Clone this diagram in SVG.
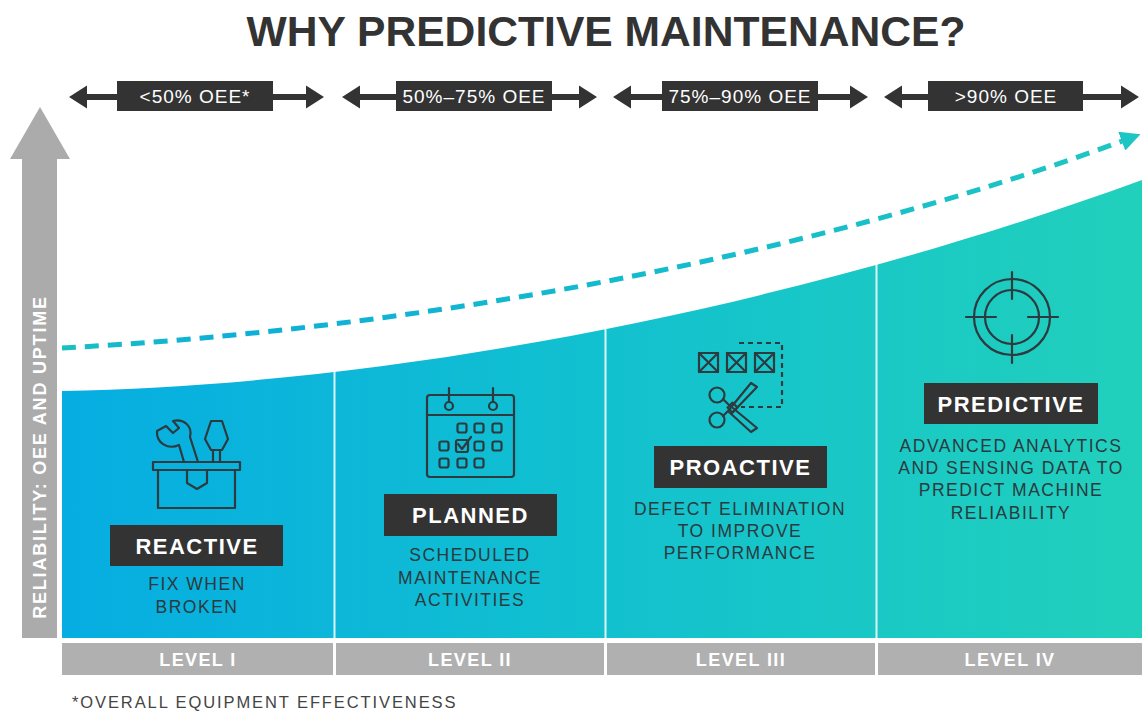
<svg xmlns="http://www.w3.org/2000/svg" width="1142" height="711" viewBox="0 0 1142 711">
<style>
.title{font-family:"Liberation Sans",Arial,sans-serif;font-weight:bold;font-size:42px;fill:#333333}
.rng{font-family:"Liberation Sans",Arial,sans-serif;font-size:19px;fill:#ffffff;letter-spacing:1px}
.lab{font-family:"Liberation Sans",Arial,sans-serif;font-weight:bold;font-size:22px;fill:#ffffff;letter-spacing:1.5px}
.desc{font-family:"Liberation Sans",Arial,sans-serif;font-size:17.5px;fill:#2b3a40;letter-spacing:1.5px}
.lvl{font-family:"Liberation Sans",Arial,sans-serif;font-weight:bold;font-size:18px;fill:#ffffff;letter-spacing:1.4px}
.axis{font-family:"Liberation Sans",Arial,sans-serif;font-weight:bold;font-size:18px;fill:#ffffff;letter-spacing:1.8px}
.foot{font-family:"Liberation Sans",Arial,sans-serif;font-size:16.5px;fill:#444444;letter-spacing:1.9px}
.ic{fill:none;stroke:#2d3a3f;stroke-width:2.2;stroke-linejoin:round;stroke-linecap:round}
.dk{fill:#333333}
.box{fill:#333333}
</style>
<defs>
<linearGradient id="fillg" x1="62" y1="0" x2="1142" y2="0" gradientUnits="userSpaceOnUse">
<stop offset="0" stop-color="#06ade2"/>
<stop offset="0.5" stop-color="#12c1cf"/>
<stop offset="1" stop-color="#21d0bb"/>
</linearGradient>
<linearGradient id="dashg" x1="62" y1="0" x2="1142" y2="0" gradientUnits="userSpaceOnUse">
<stop offset="0" stop-color="#19c0c2"/>
<stop offset="0.15" stop-color="#0eafd8"/>
<stop offset="0.55" stop-color="#14bbcc"/>
<stop offset="1" stop-color="#1ec6c3"/>
</linearGradient>
<marker id="ah" viewBox="0 0 10 10" refX="6" refY="5" markerWidth="4" markerHeight="4" markerUnits="strokeWidth" orient="auto">
<path d="M0,0 L10,5 L0,10 Z" fill="#1ec6c3"/>
</marker>
<symbol id="dbl" viewBox="0 0 255 24" width="255" height="24" overflow="visible">
<path class="dk" d="M0,12 L18,0.5 V9 H237 V0.5 L255,12 L237,23.5 V15 H18 V23.5 Z"/>
</symbol>
</defs>

<text class="title" x="606" y="46" text-anchor="middle" textLength="719" lengthAdjust="spacingAndGlyphs">WHY PREDICTIVE MAINTENANCE?</text>

<g id="ranges">
<g id="r1"><use href="#dbl" x="69" y="85"/><rect class="box" x="117" y="81" width="156" height="30"/><text class="rng" x="195" y="103" text-anchor="middle">&lt;50% OEE*</text></g>
<g id="r2"><use href="#dbl" x="342" y="85"/><rect class="box" x="396" y="81" width="156" height="30"/><text class="rng" x="474" y="103" text-anchor="middle">50%–75% OEE</text></g>
<g id="r3"><use href="#dbl" x="613" y="85"/><rect class="box" x="662" y="81" width="156" height="30"/><text class="rng" x="740" y="103" text-anchor="middle">75%–90% OEE</text></g>
<g id="r4"><use href="#dbl" x="884" y="85"/><rect class="box" x="928" y="81" width="155" height="30"/><text class="rng" x="1006" y="103" text-anchor="middle">&gt;90% OEE</text></g>
</g>

<g id="axis">
<path d="M22,638 V159 H10 L40,107 L70,159 H57 V638 Z" fill="#ababab"/>
<text class="axis" transform="translate(46,457) rotate(-90)" x="0" y="0" text-anchor="middle">RELIABILITY: OEE AND UPTIME</text>
</g>

<g id="area">
<path d="M62,391 C400,385 800,305 1142,180 V638 H62 Z" fill="url(#fillg)"/>
<g stroke="#ffffff" stroke-width="2" opacity="0.85">
<line x1="334.5" y1="360" x2="334.5" y2="638"/>
<line x1="605.5" y1="320" x2="605.5" y2="638"/>
<line x1="876.5" y1="255" x2="876.5" y2="638"/>
</g>
</g>

<g id="connectors">
<path d="M62,348 C400,330 800,262 1133,137" fill="none" stroke="url(#dashg)" stroke-width="5" stroke-dasharray="14 9" marker-end="url(#ah)"/>
</g>

<g id="levels">
<rect x="62" y="643" width="271" height="32" fill="#b0b0b0"/>
<rect x="336" y="643" width="268" height="32" fill="#b0b0b0"/>
<rect x="607" y="643" width="268" height="32" fill="#b0b0b0"/>
<rect x="878" y="643" width="264" height="32" fill="#b0b0b0"/>
<text class="lvl" x="198" y="666" text-anchor="middle">LEVEL I</text>
<text class="lvl" x="470" y="666" text-anchor="middle">LEVEL II</text>
<text class="lvl" x="741" y="666" text-anchor="middle">LEVEL III</text>
<text class="lvl" x="1010" y="666" text-anchor="middle">LEVEL IV</text>
</g>

<g id="reactive">
<g class="ic">
<rect x="153" y="462" width="87" height="8"/>
<path d="M158,470 V508 H235 V470"/>
<path d="M187,470 V483 L197,489 L207,483 V470"/>
<path d="M211,421 H222 L228,439 L222,450 H211 L205,439 Z"/>
<path d="M213,450 V462 M220,450 V462"/>
<path d="M166,426 L173,433 L179,428 L173,421 C183,418 193,426 190,437 L198,462 H184 L179,445 C168,450 156,443 157,431 Z"/>
</g>
<rect class="box" x="110" y="525" width="173" height="41"/>
<text class="lab" x="197" y="553.5" text-anchor="middle">REACTIVE</text>
<text class="desc" x="197" y="590" text-anchor="middle">FIX WHEN</text>
<text class="desc" x="197" y="613" text-anchor="middle">BROKEN</text>
</g>

<g id="planned">
<g class="ic">
<rect x="427" y="395" width="87" height="82" rx="3"/>
<line x1="427" y1="415" x2="514" y2="415"/>
<circle cx="449" cy="406" r="4"/>
<circle cx="493" cy="406" r="4"/>
<line x1="449" y1="388" x2="449" y2="402"/>
<line x1="493" y1="388" x2="493" y2="402"/>
<rect x="457.5" y="423.5" width="9" height="9" rx="2"/>
<rect x="474.5" y="423.5" width="9" height="9" rx="2"/>
<rect x="492.5" y="423.5" width="9" height="9" rx="2"/>
<rect x="439.5" y="441.5" width="9" height="9" rx="2"/>
<rect x="456" y="440" width="12" height="12" rx="2"/>
<rect x="474.5" y="441.5" width="9" height="9" rx="2"/>
<rect x="492.5" y="441.5" width="9" height="9" rx="2"/>
<rect x="439.5" y="458.5" width="9" height="9" rx="2"/>
<rect x="457.5" y="458.5" width="9" height="9" rx="2"/>
<rect x="474.5" y="458.5" width="9" height="9" rx="2"/>
<path d="M458,444 L462,449 L471,437"/>
</g>
<rect class="box" x="384" y="494" width="173" height="42"/>
<text class="lab" x="470.5" y="523" text-anchor="middle">PLANNED</text>
<text class="desc" x="470" y="561" text-anchor="middle">SCHEDULED</text>
<text class="desc" x="470" y="584" text-anchor="middle">MAINTENANCE</text>
<text class="desc" x="470" y="606" text-anchor="middle">ACTIVITIES</text>
</g>

<g id="proactive">
<g class="ic">
<rect x="699" y="353" width="19" height="19"/>
<path d="M699,353 L718,372 M718,353 L699,372"/>
<rect x="727" y="353" width="19" height="19"/>
<path d="M727,353 L746,372 M746,353 L727,372"/>
<rect x="755" y="353" width="19" height="19"/>
<path d="M755,353 L774,372 M774,353 L755,372"/>
<path d="M739,343 H782 V407 H741" stroke-dasharray="5 4" stroke-linecap="butt"/>
<circle cx="717" cy="395" r="7.5"/>
<circle cx="717" cy="420" r="7.5"/>
<path d="M723,399 L728,404 L757,428 L751,432 L729,412"/>
<path d="M723,416 L728,411 L751,383 L757,387 L732,413"/>
<rect x="729" y="404" width="7" height="7" transform="rotate(45 732.5 407.5)"/>
</g>
<rect class="box" x="654" y="446" width="173" height="42"/>
<text class="lab" x="740.5" y="475" text-anchor="middle">PROACTIVE</text>
<text class="desc" x="740" y="515" text-anchor="middle">DEFECT ELIMINATION</text>
<text class="desc" x="740" y="537" text-anchor="middle">TO IMPROVE</text>
<text class="desc" x="740" y="559" text-anchor="middle">PERFORMANCE</text>
</g>

<g id="predictive">
<g class="ic">
<circle cx="1012" cy="317" r="38"/>
<circle cx="1012" cy="317" r="27"/>
<path d="M1012,272 V299 M1012,335 V363 M966,317 H996 M1028,317 H1058"/>
</g>
<rect class="box" x="924" y="383" width="174" height="41"/>
<text class="lab" x="1011" y="411.5" text-anchor="middle">PREDICTIVE</text>
<text class="desc" x="1011" y="452" text-anchor="middle">ADVANCED ANALYTICS</text>
<text class="desc" x="1011" y="474" text-anchor="middle">AND SENSING DATA TO</text>
<text class="desc" x="1011" y="496" text-anchor="middle">PREDICT MACHINE</text>
<text class="desc" x="1011" y="519" text-anchor="middle">RELIABILITY</text>
</g>

<text class="foot" x="72" y="708">*OVERALL EQUIPMENT EFFECTIVENESS</text>
</svg>
